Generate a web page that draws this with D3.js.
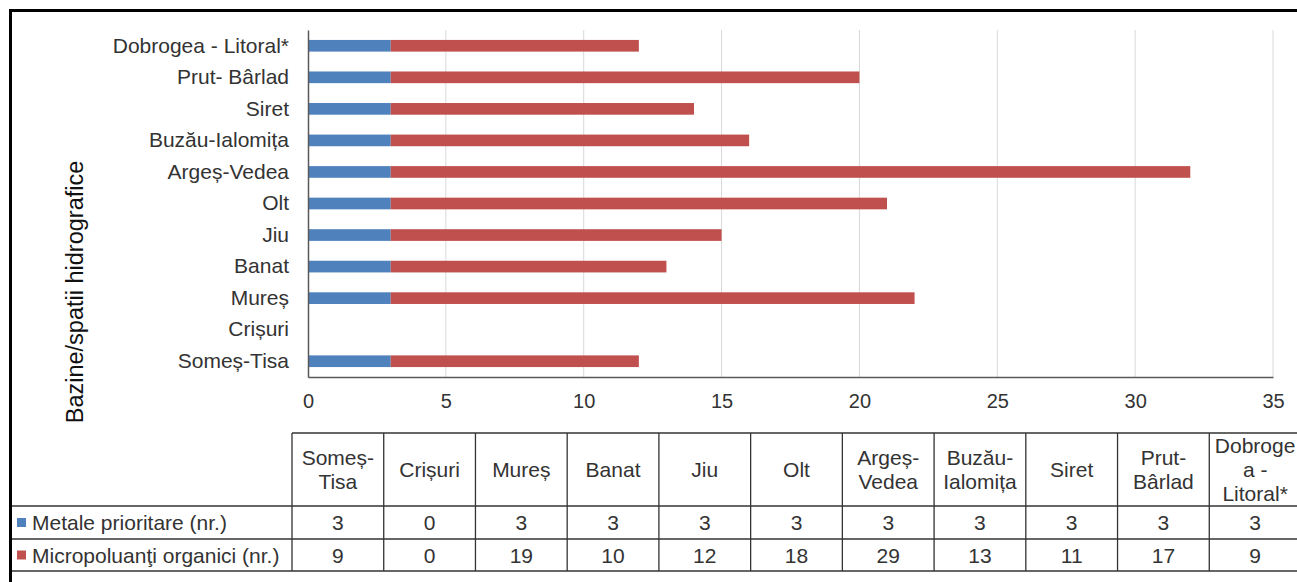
<!DOCTYPE html>
<html>
<head>
<meta charset="utf-8">
<script src="https://cdn.jsdelivr.net/npm/d3@7"></script>
<style>
  html, body { margin: 0; padding: 0; background: #fff; }
  svg { display: block; font-family: "Liberation Sans", Arial, sans-serif; }
</style>
</head>
<body>
<svg id="chart" width="1297" height="582"></svg>
<script>
// River basins, in table order (bottom bar first)
const basins = ["Someș-Tisa", "Crișuri", "Mureș", "Banat", "Jiu", "Olt",
  "Argeș-Vedea", "Buzău-Ialomița", "Siret", "Prut-Bârlad", "Dobrogea-Litoral*"];
// Bar-axis labels, same order
const axisLabels = ["Someș-Tisa", "Crișuri", "Mureș", "Banat", "Jiu", "Olt",
  "Argeș-Vedea", "Buzău-Ialomița", "Siret", "Prut- Bârlad", "Dobrogea - Litoral*"];
// Table header labels, broken into lines
const headerLines = [["Someș-", "Tisa"], ["Crișuri"], ["Mureș"], ["Banat"], ["Jiu"], ["Olt"],
  ["Argeș-", "Vedea"], ["Buzău-", "Ialomița"], ["Siret"], ["Prut-", "Bârlad"], ["Dobroge", "a -", "Litoral*"]];
const metals = [3, 0, 3, 3, 3, 3, 3, 3, 3, 3, 3];
const organics = [9, 0, 19, 10, 12, 18, 29, 13, 11, 17, 9];
const seriesNames = ["Metale prioritare (nr.)", "Micropoluanţi organici (nr.)"];
const seriesColors = ["#4f81bd", "#c0504d"];
const xTicks = [0, 5, 10, 15, 20, 25, 30, 35];
const yTitle = "Bazine/spatii hidrografice";

const svg = d3.select("#chart");
const textColor = "#333";

// Plot area
const plot = { left: 308, right: 1273, top: 30, bottom: 377 };
const x = d3.scaleLinear().domain([0, 35]).range([plot.left, plot.right]);
const y = d3.scaleBand().domain(basins.slice().reverse())
  .range([plot.top, plot.bottom]).paddingInner(0).paddingOuter(0);
const barH = y.step() * 0.37;

// Vertical gridlines
svg.append("g").selectAll("line").data(xTicks.filter(t => t > 0)).join("line")
  .attr("x1", d => x(d)).attr("x2", d => x(d))
  .attr("y1", plot.top).attr("y2", plot.bottom)
  .attr("stroke", "#d9d9d9").attr("stroke-width", 1);

// Stacked bars
const stackData = basins.map((b, i) => ({ basin: b, m: metals[i], o: organics[i] }));
const stacked = d3.stack().keys(["m", "o"])(stackData);
svg.append("g").selectAll("g").data(stacked).join("g")
  .attr("fill", (d, i) => seriesColors[i])
  .selectAll("rect").data(d => d).join("rect")
  .attr("x", d => x(d[0]))
  .attr("width", d => x(d[1]) - x(d[0]))
  .attr("y", d => y(d.data.basin) + (y.step() - barH) / 2)
  .attr("height", barH);

// Axes
const xAxis = d3.axisBottom(x).tickValues(xTicks).tickSize(0).tickPadding(17);
const gx = svg.append("g").attr("transform", `translate(0,${plot.bottom})`).call(xAxis);
gx.select(".domain").attr("stroke", "#595959").attr("stroke-width", 1.5);
gx.selectAll("text").attr("font-size", 20).attr("fill", textColor)
  .attr("font-family", "Liberation Sans, Arial, sans-serif");

const labelMap = new Map(basins.map((b, i) => [b, axisLabels[i]]));
const yAxis = d3.axisLeft(y).tickSize(0).tickPadding(19).tickFormat(d => labelMap.get(d));
const gy = svg.append("g").attr("transform", `translate(${plot.left},0)`).call(yAxis);
gy.select(".domain").attr("stroke", "#595959").attr("stroke-width", 1.5);
gy.selectAll("text").attr("font-size", 21).attr("fill", textColor)
  .attr("font-family", "Liberation Sans, Arial, sans-serif");

// Axis title
svg.append("text")
  .attr("transform", "translate(83,292) rotate(-90)")
  .attr("text-anchor", "middle")
  .attr("font-size", 23.5).attr("fill", "#111")
  .text(yTitle);

// Data table
const tbl = { left: 292, right: 1301, top: 433, headBottom: 506, row1: 539, bottom: 571, legendLeft: 11 };
const col = d3.scaleBand().domain(basins).range([tbl.left, tbl.right]);
const lineColor = "#333";
const tg = svg.append("g").attr("stroke", lineColor).attr("stroke-width", 1.3);

// horizontal rules
tg.append("line").attr("x1", tbl.left).attr("x2", tbl.right).attr("y1", tbl.top).attr("y2", tbl.top);
[tbl.headBottom, tbl.row1, tbl.bottom].forEach(yy =>
  tg.append("line").attr("x1", tbl.legendLeft).attr("x2", tbl.right).attr("y1", yy).attr("y2", yy));
// vertical rules
basins.forEach(b =>
  tg.append("line").attr("x1", col(b)).attr("x2", col(b)).attr("y1", tbl.top).attr("y2", tbl.bottom));

// header cells
const headerG = svg.append("g").attr("font-size", 21).attr("fill", textColor).attr("text-anchor", "middle");
basins.forEach((b, i) => {
  const lines = headerLines[i];
  const lh = 24;
  const cy = (tbl.top + tbl.headBottom) / 2;
  const y0 = cy - (lines.length - 1) * lh / 2 + 7;
  lines.forEach((ln, k) => {
    headerG.append("text")
      .attr("x", col(b) + col.bandwidth() / 2)
      .attr("y", y0 + k * lh)
      .text(ln);
  });
});

// value rows
const rows = [metals, organics];
const rowBounds = [[tbl.headBottom, tbl.row1], [tbl.row1, tbl.bottom]];
rows.forEach((vals, r) => {
  const cy = (rowBounds[r][0] + rowBounds[r][1]) / 2;
  svg.append("g").selectAll("text").data(vals).join("text")
    .attr("x", (d, i) => col(basins[i]) + col.bandwidth() / 2)
    .attr("y", cy + 7.5)
    .attr("text-anchor", "middle")
    .attr("font-size", 21).attr("fill", textColor)
    .text(d => d);
  // legend key and series name
  svg.append("rect")
    .attr("x", 17).attr("y", cy - 4.5).attr("width", 9).attr("height", 9)
    .attr("fill", seriesColors[r]);
  svg.append("text")
    .attr("x", 32).attr("y", cy + 7.5)
    .attr("font-size", 21).attr("fill", textColor)
    .text(seriesNames[r]);
});

// Outer frame (top and left edges visible)
svg.append("path")
  .attr("d", `M10.5,582 V10.5 H1297`)
  .attr("fill", "none").attr("stroke", "#000").attr("stroke-width", 3);
</script>
</body>
</html>
